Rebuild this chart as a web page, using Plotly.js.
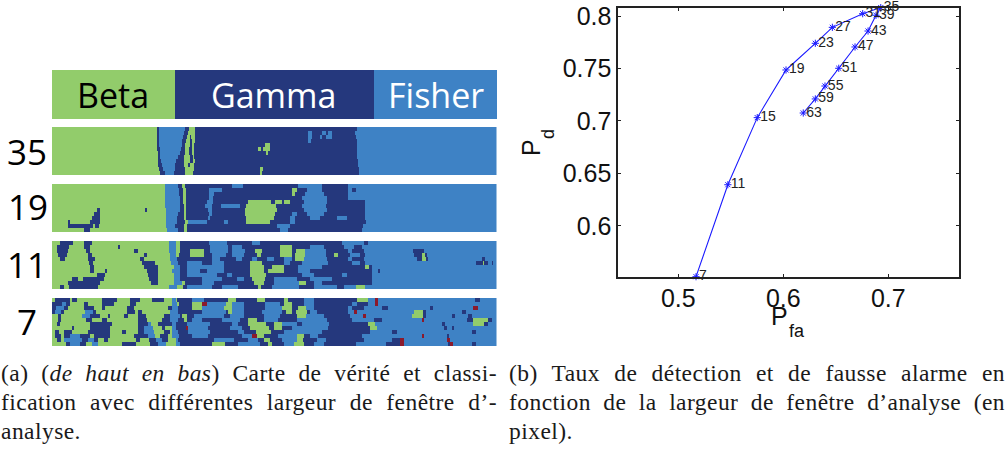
<!DOCTYPE html>
<html><head><meta charset="utf-8">
<script src="https://cdn.plot.ly/plotly-3.0.1.min.js"></script>
<style>html,body{margin:0;padding:0;background:#fff}#p{width:1006px;height:450px}</style>
</head><body><div id="p"></div>
<script>
// Curve: analysis window width, false alarm rate, detection rate
const windowWidths=[7,11,15,19,23,27,31,35,39,43,47,51,55,59,63];
const pfa=[.5169,.5472,.5752,.6026,.6305,.6467,.6756,.6928,.6883,.6807,.6683,.6528,.6397,.6305,.619];
const pd=[.5517,.6393,.7032,.7486,.774,.7892,.8022,.808,.8007,.7857,.7705,.7502,.7333,.721,.7076];
const xTicks=[.5,.6,.7];
const yTicks=[.6,.65,.7,.75,.8];
// Class maps, read row by row as runs: class letter + run end column
const stripLabels=['35','19','11','7'];
const headerNames=['Beta','Gamma','Fisher'];
const headerEdges=[0,123,322,445];
const strip35=[
"G105 N107 B133 N137 G143 N305 B445",
"G105 N107 B132 N136 G143 N256 B260 N270 B274 N276 B280 N303 B445",
"G105 N107 B131 N135 G138 N139 G143 N256 B260 N268 B270 N274 B280 N304 B445",
"G105 N107 B130 N134 G138 N140 G143 N256 B259 N305 B445",
"G105 N107 B130 N133 G138 N140 G142 N213 G218 N305 B445",
"G105 N108 B129 N133 G137 N140 G142 N206 G209 N211 G218 N305 B445",
"G106 N108 B128 N133 G137 N140 G142 N214 G216 N305 B445",
"G106 N108 B126 N132 G138 N141 G142 N305 B445",
"G106 N109 B124 N132 G138 N141 G143 N306 B445",
"G106 N110 B123 N132 G136 N138 G142 N306 B445",
"G107 N111 B123 N133 G142 N208 G211 N307 B445",
"G108 N113 B122 N133 G141 N208 G210 N307 B445"];
const strip19=[
"G113 B126 N130 G133 N180 B191 N246 B270 N296 B445",
"G113 B127 N131 G134 N157 B170 N240 G245 N255 B270 N296 B300 N304 B445",
"G113 B127 N131 G134 N157 B162 N240 G243 N253 B272 N296 B445",
"G113 B128 N131 G134 N157 B161 N250 B275 N296 B445",
"G113 B128 N131 G134 N155 B161 N196 G219 N223 G230 N232 G238 N252 B275 N313 B445",
"G113 B128 N132 G134 N153 B160 N169 B188 N194 G224 N250 B274 N313 B445",
"G45 N48 G93 N95 G114 B128 N132 G134 N156 B160 N193 G225 N252 B275 N313 B445",
"G42 N48 G114 B126 N132 G134 N157 B160 N193 G223 N240 B245 N255 B272 N313 B445",
"G40 N48 G114 B125 N132 G134 N156 B158 N194 G222 N238 B243 N258 B268 N285 B295 N313 B445",
"G16 N18 G38 N48 G114 B125 N133 G136 B155 N172 B176 N194 G218 N238 B243 N314 B445",
"G16 N41 G43 N47 G114 B123 N132 G135 N225 B238 N311 B445",
"G32 N38 G115 B126 N132 G135 N228 B236 N310 B445"];
const strip11=[
"G8 N21 G32 N40 G117 B124 G128 N157 B175 N200 B208 N290 B312 N316 B445",
"G5 N17 G32 N38 G66 N68 G117 B124 G128 N158 B176 N180 B190 N228 G240 N258 B272 N292 B302 N310 B445",
"G5 N16 G34 N38 G82 N86 G117 B124 G128 N138 G152 N158 B176 N180 B193 N203 G210 N228 G240 N244 G253 B274 N296 B300 N312 B361 N372 B445",
"G6 N15 G36 N40 G92 N95 G118 B124 G127 N138 G152 N160 B174 N180 B192 N205 G209 N228 G240 N243 G253 B274 N282 G286 N298 B308 N313 B362 N370 G373 N375 B445",
"G8 N13 G36 N43 G88 N92 G118 B125 N160 B168 N184 B190 N200 B205 N215 B222 N232 B240 N243 G252 B275 N296 B300 N312 B365 N370 G374 N376 B430 N433 B445",
"G37 N41 G90 N103 G119 B126 N135 B150 N160 B172 N198 G210 N232 B238 N250 B276 N300 B308 N313 B424 N431 G432 N436 B440 N441 B445",
"G38 N42 G92 N106 G120 G122 B128 N135 B172 N198 G212 N220 G232 N246 B270 N313 G317 N320 B445",
"G38 N42 G53 N55 G95 N106 G120 B128 N135 B148 N155 B172 N198 G212 N216 G232 N246 B258 N320 B326 N328 B445",
"G45 N53 G96 N106 G122 B128 N135 B165 N175 B180 N198 G214 N250 B262 N290 B295 N320 B445",
"G20 N26 G31 N52 G97 N106 G122 B128 N150 B170 N185 B192 N200 G213 N222 B245 N258 B280 N320 B445",
"G16 N48 G99 N106 G122 B130 G133 N150 B162 N202 G212 N222 B247 G254 N262 B270 N320 B445",
"G8 N12 G17 N46 G117 B125 G131 N135 B160 N170 B186 N206 G209 N220 B247 N262 B285 N292 B304 G313 B445"];
const strip7=[
"G3 N18 G20 N25 G50 N65 G78 N88 G100 N112 G120 B124 G125 N140 B152 N176 G184 N205 G213 N232 G236 N252 B262 N305 G316 B323 R326 B423 N428 B445",
"N10 B14 N18 G32 N36 G50 N62 G78 N84 G120 B125 G127 N140 G150 R155 B174 G180 B192 N213 B228 N232 G240 N252 B262 N300 B305 N316 B323 R326 B445",
"N4 B12 N16 G32 N42 G50 N53 G75 N82 G116 N120 B126 N140 G150 B172 G180 B192 N213 B230 G240 N246 G254 B262 N296 B300 N312 B330 N336 B378 N381 B421 R426 B445",
"N3 B9 N12 G33 B41 N44 G75 N83 G86 N90 G118 B126 N150 B174 N176 G180 B192 N210 B230 N234 G240 N244 G255 N258 B265 N296 B302 R305 B362 G371 N374 B410 N414 B445",
"G6 N9 G30 B38 N48 G56 N58 G72 N76 G86 N94 G112 N118 B128 N130 G135 N142 B172 N178 B192 N212 B228 N245 G254 B272 N298 B311 R314 B360 G371 N374 B400 N403 B416 N420 B445",
"G6 N9 G34 N40 G50 N55 G86 N95 G110 N118 B126 N132 G135 N140 B150 N170 B188 N196 G205 N212 B226 N245 B275 N300 B322 N330 B370 R372 B415 N421 G436 N440 B445",
"G5 N8 G38 N60 G86 N96 B99 G106 N120 B124 N135 B158 N180 B186 N196 G214 N222 G230 B245 N250 B277 N316 G323 B390 N393 B421 G432 N436 B445",
"G20 N22 G38 N58 G86 N92 B101 G110 N113 G120 B124 N134 R136 B156 N178 B190 N198 G217 N222 G230 N240 B276 N318 G325 B392 N395 B400 N402 B445",
"G3 N7 G12 N20 G36 N58 G70 N74 G86 N92 B102 G112 N118 G120 B126 N136 B158 N186 B192 N204 G219 N232 B270 N318 B340 N345 B420 N424 B445",
"G3 N9 G12 N18 B28 N38 G42 N58 G82 N96 B103 G108 N116 G120 B127 N140 B156 N190 B200 R205 G212 N226 B245 G252 N258 B266 N310 B370 R372 B395 N397 B445",
"G5 N9 G12 B30 N36 B42 N46 G52 N56 G84 N88 G97 N104 B110 N116 G120 G124 B126 N162 B182 N196 B206 N212 G218 N230 B245 G251 N265 B274 N312 B340 N348 R352 B395 R398 B445",
"G14 N18 B28 N34 G40 B46 G70 N84 G98 N106 B114 G120 G124 B128 N160 G173 N186 B208 N216 G220 N232 B242 G252 N262 B272 N304 B334 N348 R352 B396 N398 R401 B420 N424 B445"];
const classes={G:0,N:1,B:2,R:3};
const classColors=['#92CC6B','#25387D','#3E82C5','#8B1A2C'];
const captionLeft=['(a) (<i>de haut en bas</i>) Carte de vérité et classi-','fication avec différentes largeur de fenêtre d’-','analyse.'];
const captionRight=['(b) Taux de détection et de fausse alarme en','fonction de la largeur de fenêtre d’analyse (en','pixel).'];

const W=1006,H=450;
const fx=p=>p/W, fy=p=>1-p/H;
function expand(rows){return rows.map(r=>{const out=[];let prev=0;
  r.split(' ').forEach(t=>{const c=classes[t[0]],e=+t.slice(1);for(let i=prev;i<e;i++)out.push(c);prev=Math.max(prev,e);});return out;});}
const cs=[[0,classColors[0]],[.25,classColors[0]],[.25,classColors[1]],[.5,classColors[1]],[.5,classColors[2]],[.75,classColors[2]],[.75,classColors[3]],[1,classColors[3]]];
const hm=(z,ya,x)=>({type:'heatmap',z,x,xaxis:'x2',yaxis:ya,zmin:0,zmax:4,zsmooth:false,colorscale:cs,showscale:false,hoverinfo:'skip'});
const tops=[127,184,241,298];
const traces=[hm([[0,1,2]],'y2',headerEdges)];
[strip35,strip19,strip11,strip7].forEach((s,i)=>traces.push(hm(expand(s),'y'+(i+3))));
traces.push({type:'scatter',mode:'lines+markers',x:pfa,y:pd,cliponaxis:false,
  line:{color:'#1a1aff',width:1.1},marker:{symbol:'asterisk-open',size:6,color:'#1a1aff',line:{color:'#1a1aff',width:1}},hoverinfo:'skip'});
traces.push({type:'scatter',mode:'markers+text',x:pfa,y:pd,text:windowWidths.map(String),textposition:'middle right',
  textfont:{family:'Liberation Sans',size:14,color:'#222'},marker:{size:3,opacity:0},cliponaxis:false,hoverinfo:'skip'});
const tickFont={family:'Liberation Sans',size:25,color:'#111'};
const layout={width:W,height:H,margin:{l:0,r:0,t:0,b:0},paper_bgcolor:'#fff',plot_bgcolor:'#fff',showlegend:false,
 xaxis:{domain:[fx(618),fx(959)],range:[.4426,.7673],tickvals:xTicks,ticktext:xTicks.map(String),ticks:'inside',ticklen:3,tickcolor:'#222',ticklabelstandoff:-2,
   mirror:'ticks',showline:true,linecolor:'#222',linewidth:1.6,showgrid:false,zeroline:false,tickfont:tickFont,anchor:'y'},
 yaxis:{domain:[fy(277),fy(7.5)],range:[.5514,.8081],tickvals:yTicks,ticktext:yTicks.map(String),ticks:'inside',ticklen:3,tickcolor:'#222',
   mirror:'ticks',showline:true,linecolor:'#222',linewidth:1.6,showgrid:false,zeroline:false,tickfont:tickFont,anchor:'x'},
 xaxis2:{domain:[fx(52),fx(497)],range:[0,445],visible:false,anchor:'y2'},
 yaxis2:{domain:[fy(119),fy(70)],range:[-.5,.5],visible:false,anchor:'x2'},
 annotations:[]};
tops.forEach((t,i)=>{layout['yaxis'+(i+3)]={domain:[fy(t+48),fy(t)],range:[11.5,-.5],visible:false,anchor:'x2'};});
const ann=(text,px,py,font,anchor,angle)=>layout.annotations.push({text,xref:'paper',yref:'paper',x:fx(px),y:fy(py),xanchor:anchor||'center',yanchor:'middle',showarrow:false,font,borderpad:0,textangle:angle||0});
const hf=c=>({family:'Open Sans',size:34,color:c});
ann(headerNames[0],113,95,hf('#000'));ann(headerNames[1],273,95,hf('#fff'));ann(headerNames[2],436,95,hf('#fff'));
const lf={family:'Open Sans',size:35,color:'#000'};
ann(stripLabels[0],27,151,lf);ann(stripLabels[1],28,207,lf);ann(stripLabels[2],27,264,lf);ann(stripLabels[3],27,321,lf);
const tf={family:'Liberation Sans',size:25,color:'#111'}, sf={family:'Liberation Sans',size:18,color:'#111'};
ann('P',779,316,tf);ann('fa',797,331,sf);
ann('P',531,148,tf,'center',-90);ann('d',548,134,sf,'center',-90);
const cf={family:'Liberation Serif',size:23.5,color:'#1a1a1a'};
const ys=[373,402,431];
captionLeft.forEach((t,i)=>ann(t,0,ys[i],cf,'left'));
captionRight.forEach((t,i)=>ann(t,508,ys[i],cf,'left'));
const plain=s=>s.replace(/<[^>]+>/g,'');
const fitWidths=new Map();
captionLeft.forEach((t,i)=>fitWidths.set(plain(t),i<2?496:0));
captionRight.forEach((t,i)=>fitWidths.set(plain(t),i<2?496:0));
Plotly.newPlot('p',traces,layout,{displayModeBar:false,staticPlot:true}).then(()=>{
  document.querySelectorAll('.annotation-text').forEach(el=>{
    const s=el.textContent; if(!fitWidths.has(s))return;
    const left=el.getBBox().x;
    el.setAttribute('text-anchor','start');el.setAttribute('x',left);
    el.style.letterSpacing='.45px';
    const target=fitWidths.get(s);
    if(target){const gaps=s.split(' ').length-1;const len=el.getComputedTextLength();el.style.wordSpacing=((target-len)/gaps)+'px';}
  });
});
</script></body></html>
